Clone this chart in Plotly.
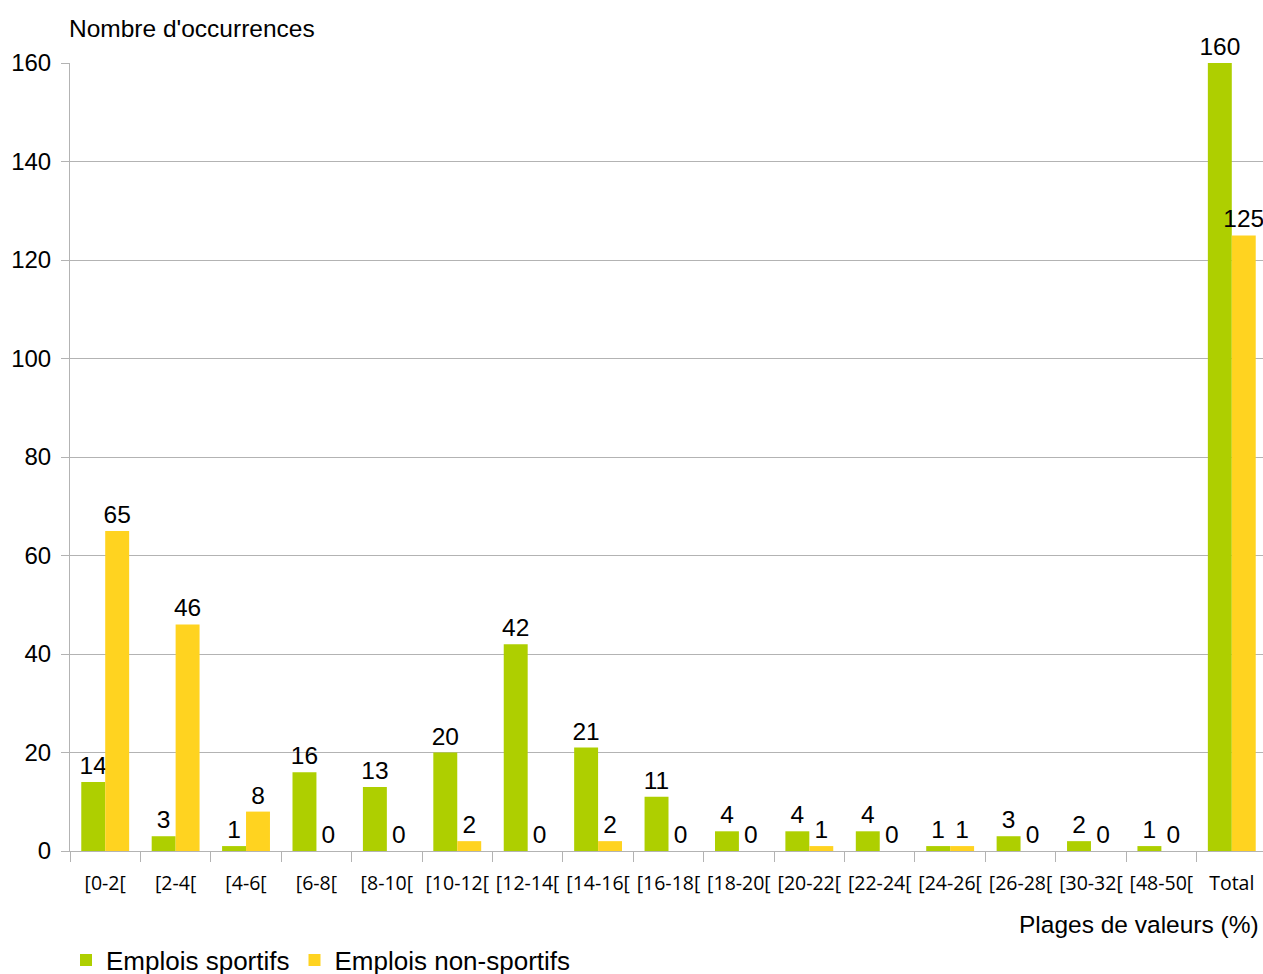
import plotly.graph_objects as go

categories = ["[0-2[", "[2-4[", "[4-6[", "[6-8[", "[8-10[", "[10-12[", "[12-14[", "[14-16[",
              "[16-18[", "[18-20[", "[20-22[", "[22-24[", "[24-26[", "[26-28[", "[30-32[",
              "[48-50[", "Total"]
sportifs = [14, 3, 1, 16, 13, 20, 42, 21, 11, 4, 4, 4, 1, 3, 2, 1, 160]
non_sportifs = [65, 46, 8, 0, 0, 2, 0, 2, 0, 0, 1, 0, 1, 0, 0, 0, 125]
y_ticks = [0, 20, 40, 60, 80, 100, 120, 140, 160]

GREEN = "#AECF00"
YELLOW = "#FFD320"
FONT = "Liberation Sans, Arial, sans-serif"

fig = go.Figure()
for name, vals, col in [("Emplois sportifs", sportifs, GREEN),
                        ("Emplois non-sportifs", non_sportifs, YELLOW)]:
    fig.add_trace(go.Bar(name=name, x=categories, y=vals,
                         marker=dict(color=col, line=dict(width=0)),
                         text=[str(v) for v in vals], textposition="outside",
                         textfont=dict(family=FONT, size=24.5, color="black"),
                         constraintext="none", cliponaxis=False))

# figure placed at page origin (body margin removed); plot area runs slightly past the window edge
W, H = 1271, 990
L, T, R = 70, 63, 4
PLOT_BOTTOM = 851
B = H - PLOT_BOTTOM
plot_h = H - T - B
plot_w = W - L - R

fig.update_layout(
    width=W, height=H,
    margin=dict(l=L, r=R, t=T, b=B, pad=0),
    paper_bgcolor="white", plot_bgcolor="white",
    barmode="group", bargap=0.32, bargroupgap=0,
    font=dict(family=FONT, size=24, color="black"),
    showlegend=True,
    legend=dict(orientation="h", x=(66 - L) / plot_w, xanchor="left",
                y=-(960 - PLOT_BOTTOM) / plot_h, yanchor="middle",
                font=dict(family=FONT, size=26, color="black"),
                traceorder="normal", bgcolor="rgba(0,0,0,0)"),
    xaxis=dict(type="category", showgrid=False, showline=True, automargin=False,
               linecolor="#b3b3b3", linewidth=1,
               ticks="outside", tickson="boundaries", ticklen=10,
               tickcolor="#b3b3b3", tickwidth=1, tickangle=0,
               tickfont=dict(family="Open Sans, sans-serif", size=19.5, color="black"),
               ticklabelstandoff=15),
    yaxis=dict(range=[0, 160], tickvals=y_ticks, showgrid=True, automargin=False,
               gridcolor="#b3b3b3", gridwidth=1, showline=True,
               linecolor="#b3b3b3", linewidth=1, zeroline=False,
               ticks="outside", ticklen=8, tickcolor="#b3b3b3",
               tickfont=dict(family=FONT, size=24, color="black"),
               ticklabelstandoff=5),
    annotations=[
        dict(text="Nombre d'occurrences", xref="paper", yref="paper",
             x=(67 - L) / plot_w, y=1 + (T - 28) / plot_h, xanchor="left", yanchor="middle",
             showarrow=False, font=dict(family=FONT, size=24.5, color="black")),
        dict(text="Plages de valeurs (%)", xref="paper", yref="paper",
             x=(1261 - L) / plot_w, y=-(924 - PLOT_BOTTOM) / plot_h,
             xanchor="right", yanchor="middle",
             showarrow=False, font=dict(family=FONT, size=24.5, color="black")),
    ],
)

fig.write_html(
    "out.html",
    config={"displayModeBar": False},
    post_script="document.body.style.margin='0';document.body.style.overflow='hidden';",
)
